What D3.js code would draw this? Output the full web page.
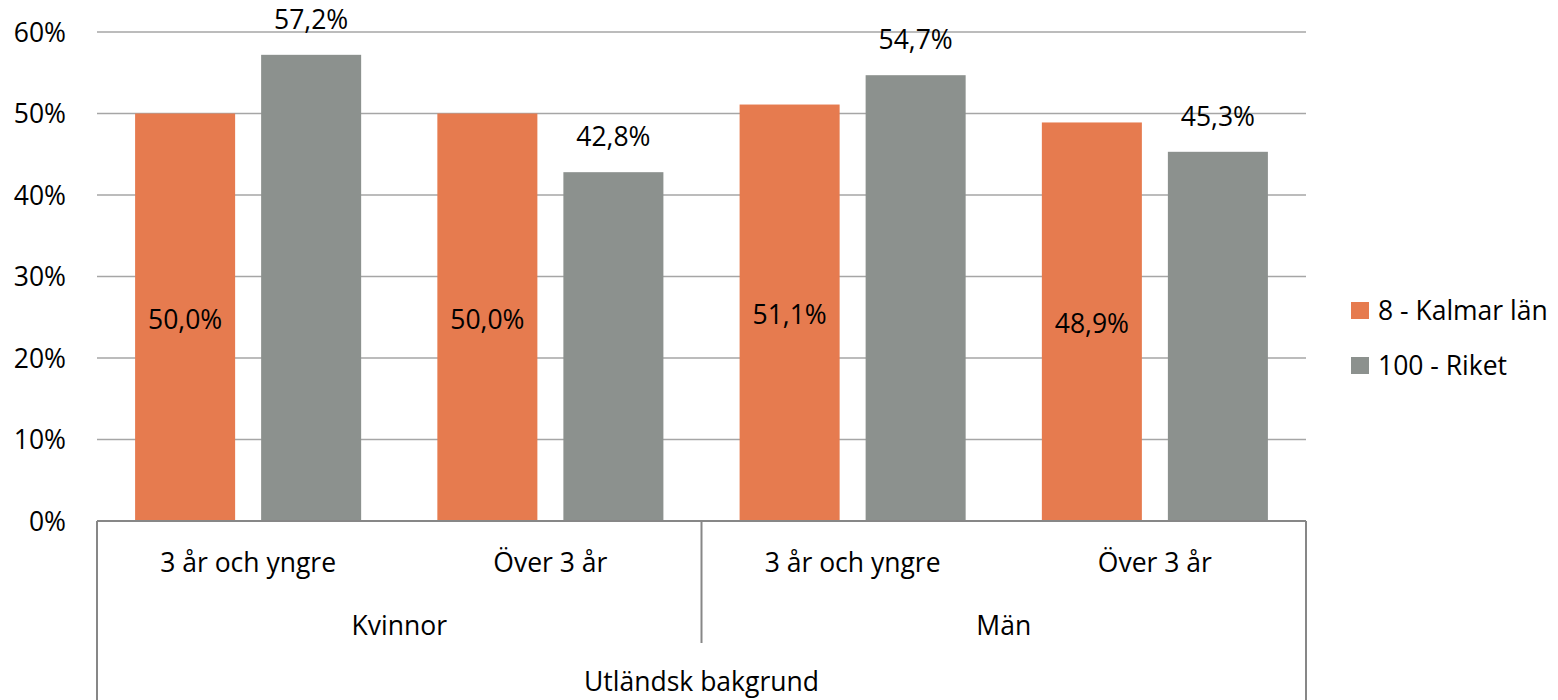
<!DOCTYPE html>
<html><head><meta charset="utf-8">
<script src="https://cdn.jsdelivr.net/npm/d3@7"></script>
<style>body{margin:0;background:#fff}svg text{font-family:"Open Sans",sans-serif;fill:#000}</style>
</head><body>
<svg id="c" width="1558" height="700"></svg>
<script>
const categories = ["3 år och yngre","Över 3 år","3 år och yngre","Över 3 år"];
const groups = ["Kvinnor","Män"];
const topLabel = "Utländsk bakgrund";
const seriesNames = ["8 - Kalmar län","100 - Riket"];
const kalmar = [50.0, 50.0, 51.1, 48.9];
const riket = [57.2, 42.8, 54.7, 45.3];
const yTicks = [0,10,20,30,40,50,60];
const colors = ["#E67B4F","#8C918E"];

const svg = d3.select("#c");
const L=97, R=1306, T=32, B=521;
const fs = 26.5;
const y = d3.scaleLinear().domain([0,60]).range([B,T]);
const x0 = d3.scaleBand().domain(d3.range(categories.length)).range([L,R]).paddingInner(0).paddingOuter(0);
const bw = x0.bandwidth();
const x1 = d3.scaleBand().domain([0,1]).range([38.1, bw-38.1]).paddingInner(0.2063);
const fmt = v => d3.format(".1f")(v).replace(".",",")+"%";

// gridlines
svg.append("g").selectAll("line").data(yTicks.filter(t=>t>0)).join("line")
 .attr("x1",L).attr("x2",R).attr("y1",d=>y(d)).attr("y2",d=>y(d))
 .attr("stroke","#A6A6A6").attr("stroke-width",1.5);

// y axis labels
const yAxis = d3.axisLeft(y).tickValues(yTicks).tickFormat(d=>d+"%").tickSize(0).tickPadding(0);
const ya = svg.append("g").attr("transform",`translate(66,0)`).call(yAxis);
ya.select(".domain").remove();
ya.selectAll("text").attr("font-size",fs).attr("font-family","Open Sans").attr("fill","#000").attr("dy","0.35em");

const data = categories.map((c,i)=>({i, vals:[kalmar[i], riket[i]]}));
const g = svg.append("g").selectAll("g").data(data).join("g").attr("transform",d=>`translate(${x0(d.i)},0)`);
g.selectAll("rect").data(d=>d.vals.map((v,s)=>({v,s}))).join("rect")
 .attr("x",d=>x1(d.s)).attr("width",x1.bandwidth())
 .attr("y",d=>y(d.v)).attr("height",d=>B-y(d.v)).attr("fill",d=>colors[d.s]);
g.selectAll("text.v").data(d=>d.vals.map((v,s)=>({v,s}))).join("text").attr("class","v")
 .attr("x",d=>x1(d.s)+x1.bandwidth()/2)
 .attr("y",d=>d.s===0 ? (y(d.v)+B)/2+2 : y(d.v)-35)
 .attr("dy","0.35em").attr("text-anchor","middle").attr("font-size",fs).text(d=>fmt(d.v));

// category axis
const ax = svg.append("g").attr("stroke","#878787").attr("stroke-width",2);
ax.append("line").attr("x1",L).attr("x2",R).attr("y1",B).attr("y2",B);
ax.append("line").attr("x1",L).attr("x2",L).attr("y1",B).attr("y2",700);
ax.append("line").attr("x1",R).attr("x2",R).attr("y1",B).attr("y2",700);
ax.append("line").attr("x1",(L+R)/2).attr("x2",(L+R)/2).attr("y1",B).attr("y2",643);

svg.append("g").selectAll("text").data(categories).join("text")
 .attr("x",(d,i)=>x0(i)+x0.bandwidth()/2).attr("y",563).attr("dy","0.35em")
 .attr("text-anchor","middle").attr("font-size",fs).text(d=>d);
svg.append("g").selectAll("text").data(groups).join("text")
 .attr("x",(d,i)=>L+(R-L)/4+i*(R-L)/2).attr("y",626).attr("dy","0.35em")
 .attr("text-anchor","middle").attr("font-size",fs).text(d=>d);
svg.append("text").attr("x",(L+R)/2).attr("y",682).attr("dy","0.35em")
 .attr("text-anchor","middle").attr("font-size",fs).text(topLabel);

// legend
const lg = svg.append("g").selectAll("g").data(seriesNames).join("g")
 .attr("transform",(d,i)=>`translate(1351,${302+i*55})`);
lg.append("rect").attr("width",18).attr("height",17).attr("fill",(d,i)=>colors[i]);
lg.append("text").attr("x",27).attr("y",9).attr("dy","0.35em").attr("font-size",fs).text(d=>d);
</script>
</body></html>
